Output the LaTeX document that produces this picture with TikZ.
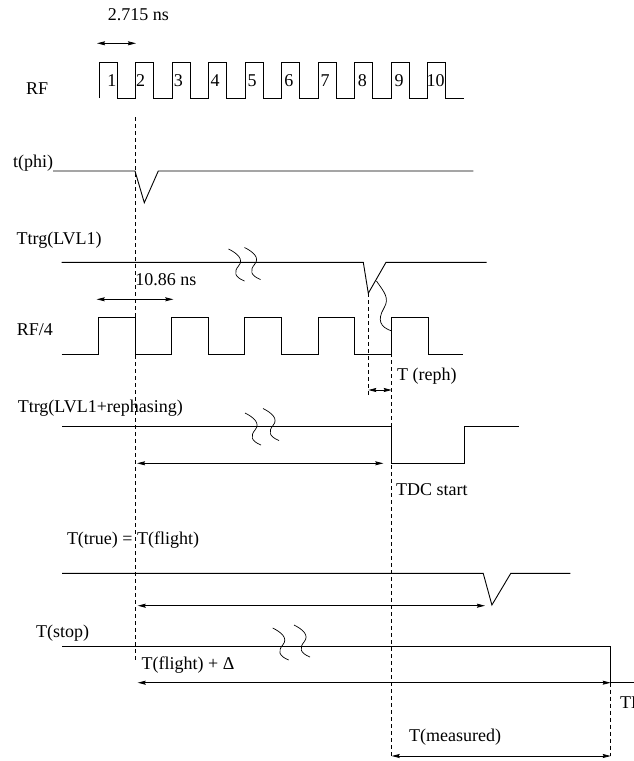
\documentclass[tikz,border=0pt]{standalone}
\usepackage{fontspec}
\setmainfont{Liberation Serif}
\usetikzlibrary{arrows.meta}

\begin{document}
\begin{tikzpicture}[
  x=1pt, y=-1pt,
  sig/.style = {line width=0.9pt},
  guide/.style = {line width=0.7pt, dash pattern=on 4pt off 3pt},
  span/.style = {line width=0.8pt, {Stealth[length=8pt,width=4pt,inset=1pt]}-{Stealth[length=8pt,width=4pt,inset=1pt]}},
  lbl/.style = {inner sep=0pt, font=\fontsize{18}{22}\selectfont},
  squig/.pic = {\draw[line width=0.7pt] (0,0) .. controls (8,4) and (16,10) .. (10,17) .. controls (5,23) and (6,28) .. (16,32);}
]
  \useasboundingbox (0,0) rectangle (633,761);

  % RF clock
  \node[lbl] (rfperiod) at (138.5,15) {2.715 ns};
  \node[lbl, anchor=west] (rflbl) at (26,88.5) {RF};
  \draw[sig] (99,98) \foreach \k in {1,...,10} { -- ++(0,-36) -- ++(18,0) -- ++(0,36) -- ++(18.5,0) };
  \foreach \d/\x in {1/111.8, 2/140.5, 3/178.3, 4/215, 5/252, 6/288.8, 7/325, 8/362.3, 9/399, 10/435.5}
    \node[lbl] (rf\d) at (\x,80.5) {\d};
  \coordinate (rfa) at (97,43.3);
  \coordinate (rfb) at (136,43.3);
  \draw[span] (rfa) -- (rfb);

  % guide lines
  \coordinate (gA1) at (135,117);
  \coordinate (gA2) at (135,661.7);
  \draw[guide] (gA1) -- (gA2);

  % t(phi)
  \node[lbl, anchor=west] (philbl) at (13,163) {t(phi)};
  \draw[sig] (53,171) -- (135,171) -- (144.3,202.7) -- (158.3,171) -- (473.3,171);

  % Ttrg(LVL1)
  \node[lbl, anchor=west] (lvllbl) at (16.5,240.5) {Ttrg(LVL1)};
  \draw[sig] (61.7,262.3) -- (363.3,262.3) -- (368.3,293.3) -- (386,262.3) -- (486.7,262.3);
  \pic at (228.5,249) {squig};
  \pic at (244.5,247.5) {squig};
  \coordinate (lvldip) at (368.3,293.3);
  \coordinate (lvlend) at (368.3,395);
  \draw[guide] (lvldip) -- (lvlend);
  \draw[line width=0.7pt] (376.5,281) .. controls (384,292) and (390,298) .. (384,308)
    .. controls (377,320) and (380,327) .. (391.7,331);

  % RF/4
  \node[lbl] (rf4period) at (166,280) {10.86 ns};
  \coordinate (rf4a) at (96.7,299.3);
  \coordinate (rf4b) at (173.3,299.3);
  \draw[span] (rf4a) -- (rf4b);
  \node[lbl, anchor=west] (rf4lbl) at (16.7,330) {RF/4};
  \draw[sig] (61.7,354) \foreach \k in {1,...,5} { -- ++(36.6,0) -- ++(0,-36.5) -- ++(36.7,0) -- ++(0,36.5) } -- (463.3,354);

  % rephasing delay
  \coordinate (tdc1) at (391.7,353);
  \coordinate (tdc2) at (391.7,756);
  \draw[guide] (tdc1) -- (tdc2);
  \coordinate (repha) at (368.3,390);
  \coordinate (rephb) at (391.7,390);
  \draw[span] (repha) -- (rephb);
  \node[lbl, anchor=west] (rephlbl) at (397,376.5) {T (reph)};

  % Ttrg(LVL1+rephasing)
  \node[lbl, anchor=west] (trglbl) at (17.6,408.5) {Ttrg(LVL1+rephasing)};
  \draw[sig] (62,426.7) -- (391.7,426.7) -- (391.7,463.3) -- (464.3,463.3) -- (464.3,426.7) -- (518.6,426.7);
  \pic at (245,413) {squig};
  \pic at (263,408.5) {squig};
  \coordinate (trga) at (137,463.3);
  \coordinate (trgb) at (383.3,463.3);
  \draw[span] (trga) -- (trgb);
  \node[lbl, anchor=west] (startlbl) at (396,490) {TDC start};

  % T(true)
  \node[lbl, anchor=west] (truelbl) at (66.8,540) {T(true) = T(flight)};
  \draw[sig] (62,573.3) -- (483.2,573.3) -- (491.9,605) -- (510.8,573.3) -- (570.3,573.3);
  \coordinate (truea) at (137.7,605.7);
  \coordinate (trueb) at (485,605.7);
  \draw[span] (truea) -- (trueb);

  % T(stop)
  \node[lbl, anchor=west] (stoplbl) at (36,633) {T(stop)};
  \draw[sig] (62,646.7) -- (610.7,646.7) -- (610.7,682.7) -- (640,682.7);
  \pic at (272.7,628) {squig};
  \pic at (294,625) {squig};
  \node[lbl, anchor=west] (flightlbl) at (141.5,665) {T(flight) + Δ};
  \coordinate (stopa) at (137.7,682.7);
  \coordinate (stopb) at (610.7,682.7);
  \draw[span] (stopa) -- (stopb);
  \coordinate (gD1) at (610.7,682.7);
  \coordinate (gD2) at (610.7,756);
  \draw[guide] (gD1) -- (gD2);
  \node[lbl, anchor=west] (stopedge) at (620,704) {TDC stop};

  % T(measured)
  \node[lbl, anchor=west] (measlbl) at (409,736.7) {T(measured)};
  \draw[span] (tdc2) -- (gD2);
\end{tikzpicture}
\end{document}
